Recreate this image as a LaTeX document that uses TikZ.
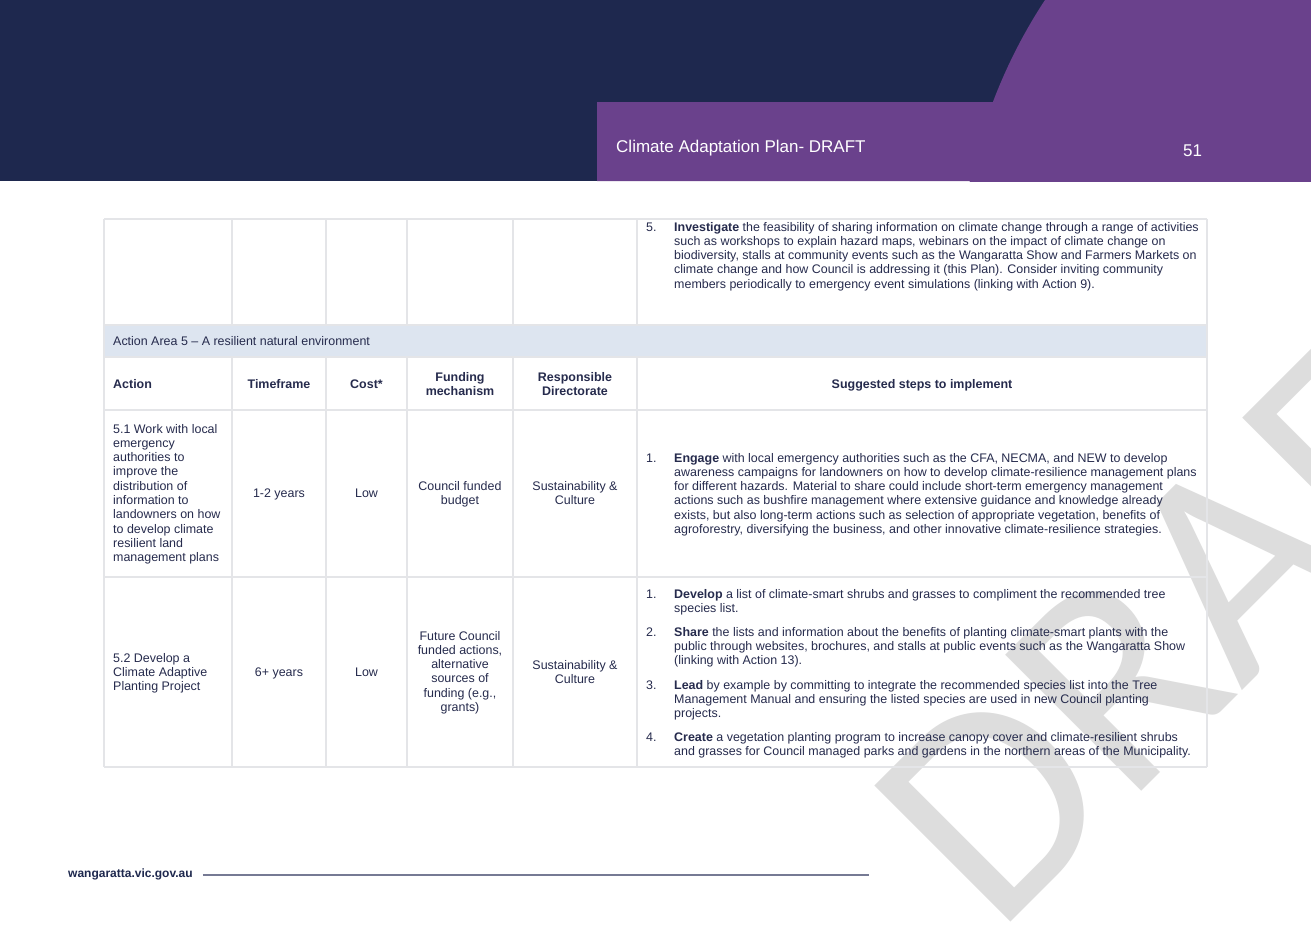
\documentclass[tikz,border=0pt]{standalone}
\usepackage{fontspec}
\setmainfont{Liberation Sans}
\newfontfamily\wmfont{Carlito}
\definecolor{navy}{RGB}{30,40,78}
\definecolor{purp}{RGB}{106,65,140}
\definecolor{txtc}{RGB}{38,43,77}
\definecolor{gridc}{RGB}{228,229,232}
\definecolor{bandc}{RGB}{221,229,240}
\definecolor{wmc}{RGB}{221,221,221}
\definecolor{footc}{RGB}{118,122,148}
\newcommand\paralines[5]{% name, style, x, first baseline, lines
  \foreach \myline [count=\k from 0] in {#5}{
    \node[#2] (#1-\k) at (#3,{-(#4+14.3*\k)}) {\myline};
  }}
\begin{document}
\begin{tikzpicture}[x=1pt,y=1pt,
  t/.style={text=txtc, inner sep=0pt, font=\fontsize{12.45}{14.3}\selectfont},
  tl/.style={t, anchor=base west},
  tc/.style={t, anchor=base},
  tb/.style={t, anchor=base, font=\fontsize{12.45}{14.3}\selectfont\bfseries},
  gridline/.style={draw=gridc, line width=1.5pt}]
\useasboundingbox (0,0) rectangle (1311,-927);
\fill[white] (0,0) rectangle (1311,-927);
% watermark
\begin{scope}
\clip (0,0) rectangle (1311,-927);
\node[rotate=45, anchor=base west, inner sep=0pt, text=wmc,
  font=\fontsize{300}{300}\wmfont] (wm) at (996,-937) {DRAFT};
\end{scope}
% header
\fill[navy] (0,0) rectangle (1311,-181);
\begin{scope}
\clip (0,0) rectangle (1311,-181);
\fill[purp] (1484,-288) circle[radius=525] (597,-102) rectangle (1311,-181);
\end{scope}
\node[anchor=base west, inner sep=0pt, text=white, font=\fontsize{17}{20}\selectfont] (title) at (616,-152) {Climate Adaptation Plan- DRAFT};
\node[anchor=base west, inner sep=0pt, text=white, font=\fontsize{17}{20}\selectfont] (pnum) at (1183,-156) {51};
% table
\fill[bandc] (104,-325) rectangle (1207,-357);
\foreach \yy in {219,325,357,410,577,767}{\draw[gridline] (104,-\yy) -- (1207,-\yy);}
\foreach \xx in {104,1207}{\draw[gridline] (\xx,-219) -- (\xx,-767);}
\foreach \xx in {232,326,407,513,637}{
  \draw[gridline] (\xx,-219) -- (\xx,-325);
  \draw[gridline] (\xx,-357) -- (\xx,-767);}
% row 0
\node[tl] (n0) at (646,-231) {5.};
\paralines{s0}{tl}{674}{231}{{\textbf{Investigate} the feasibility of sharing information on climate change through a range of activities},{such as workshops to explain hazard maps, webinars on the impact of climate change on},{biodiversity, stalls at community events such as the Wangaratta Show and Farmers Markets on},{climate change and how Council is addressing it (this Plan). Consider inviting community},{members periodically to emergency event simulations (linking with Action 9).}}
% band
\node[tl] (area) at (113,-345) {Action Area 5 – A resilient natural environment};
% header row
\node[tb, anchor=base west] (hAction) at (113,-388) {Action};
\node[tb] (hTime) at (279,-388) {Timeframe};
\node[tb] (hCost) at (366.5,-388) {Cost*};
\paralines{hFund}{tb}{460}{381}{Funding,mechanism}
\paralines{hResp}{tb}{575}{381}{Responsible,Directorate}
\node[tb] (hSteps) at (922,-388) {Suggested steps to implement};
% row 5.1
\paralines{a1}{tl}{113}{433}{5.1 Work with local,emergency,authorities to,improve the,distribution of,information to,landowners on how,to develop climate,resilient land,management plans}
\node[tc] (tf1) at (279,-497) {1-2 years};
\node[tc] (c1) at (366.5,-497) {Low};
\paralines{f1}{tc}{460}{490}{Council funded,budget}
\paralines{r1}{tc}{575}{490}{Sustainability \&,Culture}
\node[tl] (n1a) at (646,-462) {1.};
\paralines{s1}{tl}{674}{462}{{\textbf{Engage} with local emergency authorities such as the CFA, NECMA, and NEW to develop},{awareness campaigns for landowners on how to develop climate-resilience management plans},{for different hazards. Material to share could include short-term emergency management},{actions such as bushfire management where extensive guidance and knowledge already},{exists, but also long-term actions such as selection of appropriate vegetation, benefits of},{agroforestry, diversifying the business, and other innovative climate-resilience strategies.}}
% row 5.2
\paralines{a2}{tl}{113}{662}{5.2 Develop a,Climate Adaptive,Planting Project}
\node[tc] (tf2) at (279,-676) {6+ years};
\node[tc] (c2) at (366.5,-676) {Low};
\paralines{f2}{tc}{460}{640}{Future Council,{funded actions,},alternative,sources of,{funding (e.g.,},grants)}
\paralines{r2}{tc}{575}{669}{Sustainability \&,Culture}
\node[tl] (n2a) at (646,-598) {1.};
\paralines{s2a}{tl}{674}{598}{{\textbf{Develop} a list of climate-smart shrubs and grasses to compliment the recommended tree},{species list.}}
\node[tl] (n2b) at (646,-636) {2.};
\paralines{s2b}{tl}{674}{636}{{\textbf{Share} the lists and information about the benefits of planting climate-smart plants with the},{public through websites, brochures, and stalls at public events such as the Wangaratta Show},{(linking with Action 13).}}
\node[tl] (n2c) at (646,-689) {3.};
\paralines{s2c}{tl}{674}{689}{{\textbf{Lead} by example by committing to integrate the recommended species list into the Tree},{Management Manual and ensuring the listed species are used in new Council planting},{projects.}}
\node[tl] (n2d) at (646,-741) {4.};
\paralines{s2d}{tl}{674}{741}{{\textbf{Create} a vegetation planting program to increase canopy cover and climate-resilient shrubs},{and grasses for Council managed parks and gardens in the northern areas of the Municipality.}}
% footer
\node[anchor=base west, inner sep=0pt, text=navy, font=\fontsize{12}{14}\selectfont\bfseries] (foot) at (68,-877) {wangaratta.vic.gov.au};
\coordinate (fend) at (869,-875);
\draw[footc, line width=1.6pt] (foot.east |- fend) ++(10,0) -- (fend);
\end{tikzpicture}
\end{document}
